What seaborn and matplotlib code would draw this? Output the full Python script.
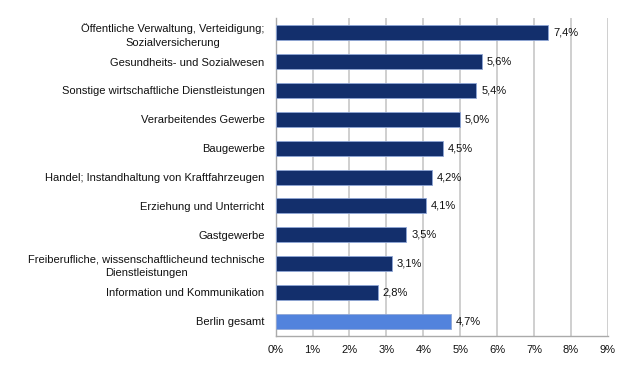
import matplotlib.pyplot as plt
import seaborn as sns
import numpy as np

# Anteile je Wirtschaftsabschnitt
categories = [
    "Öffentliche Verwaltung, Verteidigung;\nSozialversicherung",
    "Gesundheits- und Sozialwesen",
    "Sonstige wirtschaftliche Dienstleistungen",
    "Verarbeitendes Gewerbe",
    "Baugewerbe",
    "Handel; Instandhaltung von Kraftfahrzeugen",
    "Erziehung und Unterricht",
    "Gastgewerbe",
    "Freiberufliche, wissenschaftlicheund technische\nDienstleistungen",
    "Information und Kommunikation",
    "Berlin gesamt",
]
values = [7.39, 5.58, 5.44, 4.99, 4.53, 4.24, 4.07, 3.54, 3.14, 2.76, 4.74]
xticks = list(range(0, 10))

dark = "#132f6c"
light = "#5283dd"
colors = [dark] * 10 + [light]

sns.set_style("white")
plt.rcParams["font.family"] = ["Liberation Sans", "DejaVu Sans"]
plt.rcParams["font.size"] = 8
plt.rcParams["text.color"] = "#111111"
plt.rcParams["xtick.labelcolor"] = "#111111"
plt.rcParams["ytick.labelcolor"] = "#111111"

fig = plt.figure(figsize=(6.4, 3.76), dpi=100)
ax = fig.add_axes([0.4308, 0.1072, 0.5187, 0.8441])

sns.barplot(x=values, y=categories, hue=categories, palette=colors, legend=False,
            orient="h", width=0.52, saturation=1, edgecolor="#8fa6d6", linewidth=0.6,
            ax=ax, zorder=3)

# Datenbeschriftungen
for cont in ax.containers:
    ax.bar_label(cont, labels=[f"{v:.1f}%".replace(".", ",") for v in cont.datavalues],
                 padding=3.5, fontsize=8, color="#111111")

ax.set_xlim(0, 9)
ax.set_ylim(len(categories) - 0.5, -0.5)
ax.set_xticks(xticks)
ax.set_xticklabels([f"{t}%" for t in xticks])
ax.xaxis.grid(True, color="#cccccc", linewidth=1.3, zorder=0)
ax.yaxis.grid(False)

# Trennstriche zwischen den Kategorien
ax.set_yticks(np.arange(-0.5, len(categories)), minor=True)
ax.tick_params(axis="y", which="major", length=0, pad=8)
ax.tick_params(axis="y", which="minor", length=4, color="#aaaaaa", width=1)
ax.tick_params(axis="x", length=4, color="#aaaaaa", width=1, pad=3)
for lbl in ax.get_yticklabels():
    lbl.set_multialignment("center")
    lbl.set_linespacing(1.45)

for s in ["top", "right"]:
    ax.spines[s].set_visible(False)
for s in ["left", "bottom"]:
    ax.spines[s].set_color("#aaaaaa")
    ax.spines[s].set_linewidth(1)
ax.set_xlabel("")
ax.set_ylabel("")

plt.savefig("out.png", dpi=100)
